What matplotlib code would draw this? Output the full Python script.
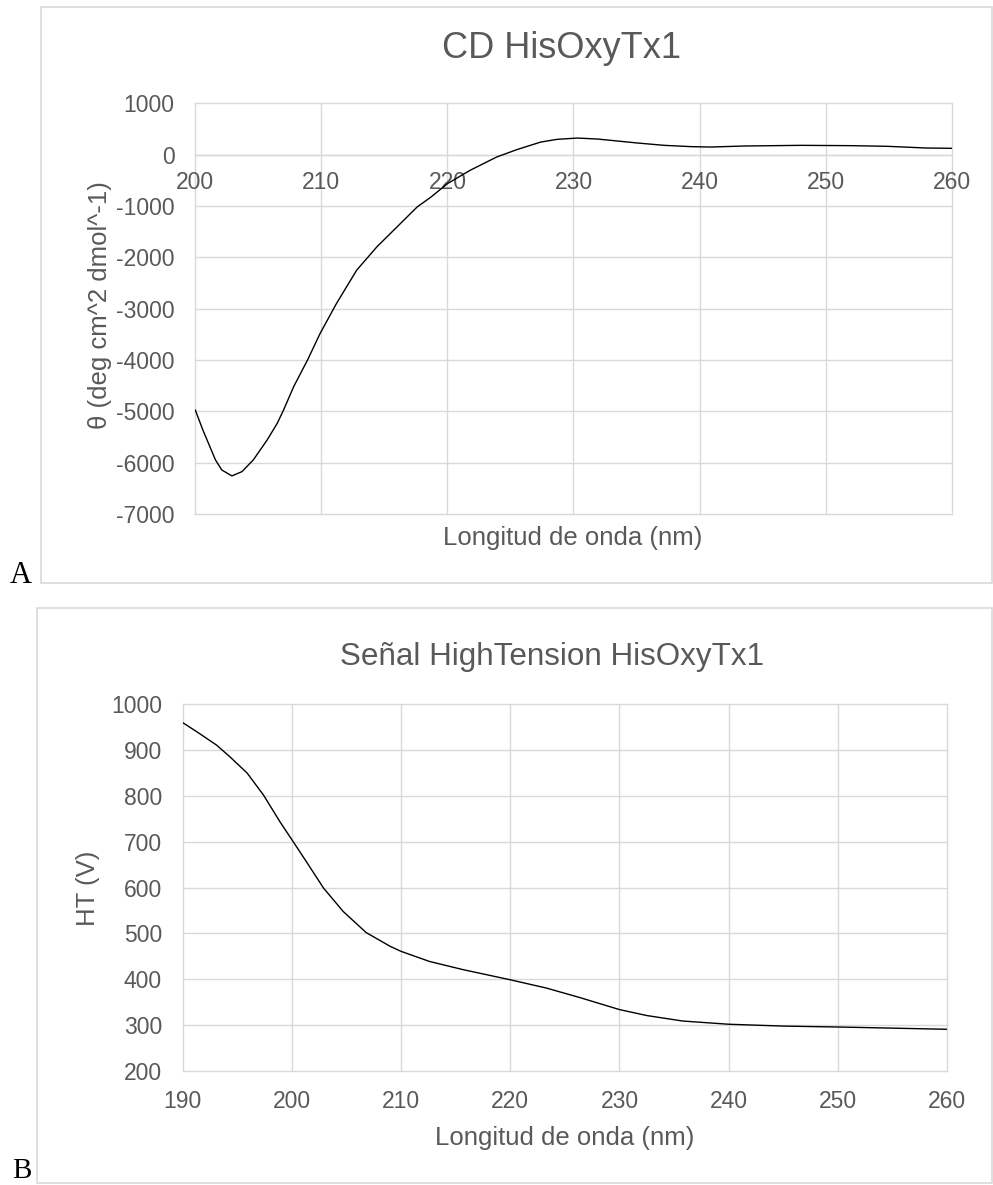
import matplotlib
matplotlib.use("Agg")
import matplotlib.pyplot as plt
from matplotlib.patches import Rectangle

plt.rcParams["font.family"] = "Liberation Sans"
plt.rcParams["axes.unicode_minus"] = False

W, H = 993, 1185

# CD spectrum (panel A)
wl_cd = [200, 200.6, 201.6, 202.1, 202.9, 203.7, 204.6, 205.7, 206.5, 207.0,
         207.8, 208.9, 209.9, 211.2, 212.8, 214.4, 216.0, 217.6, 218.7, 220.0,
         221.8, 223.9, 225.5, 227.4, 228.7, 230.3, 231.9, 233.5, 235.1, 237.2,
         239.3, 240.9, 243.5, 248.0, 252.0, 254.9, 258.0, 260.0]
theta = [-4975, -5364, -5947, -6142, -6258, -6175, -5947, -5558, -5233, -4975,
         -4521, -4002, -3483, -2899, -2251, -1797, -1408, -1019, -825, -565,
         -305, -47, 97, 245, 298, 323, 304, 265, 226, 181,
         156, 148, 168, 181, 175, 162, 129, 123]

# high tension signal (panel B)
wl_ht = [190, 191.3, 193.1, 194.3, 195.9, 197.4, 198.9, 200.1, 201.4, 202.9,
         204.7, 206.8, 209.0, 210.0, 212.6, 215.7, 220.0, 223.3, 226.4, 230.0,
         232.5, 235.8, 240, 245, 250, 260]
ht = [960, 940, 911, 886, 850, 802, 744, 701, 654, 599,
      548, 502, 472, 461, 439, 421, 399, 381, 360, 334,
      321, 309, 302, 298, 296, 291]

GRID = "#d9d9d9"
TXT = "#595959"


def px_box(left, top, right, bottom):
    return [left / W, 1 - bottom / H, (right - left) / W, (bottom - top) / H]


def fx(x):
    return x / W


def fy(y):
    return 1 - y / H


def style_axes(ax, xpad, ypad):
    for s in ax.spines.values():
        s.set_visible(False)
    ax.grid(True, color=GRID, lw=1.0)
    for line in ax.get_xgridlines() + ax.get_ygridlines():
        line.set_clip_on(False)
    ax.tick_params(axis="both", length=0, labelsize=16.5, labelcolor=TXT)
    ax.tick_params(axis="x", pad=xpad)
    ax.tick_params(axis="y", pad=ypad)
    ax.set_axisbelow(True)


fig = plt.figure(figsize=(W / 100, H / 100), dpi=100)

# panel frames
fig.patches.append(Rectangle((fx(41), fy(583)), (992 - 41) / W, (583 - 7) / H,
                             transform=fig.transFigure, fill=False,
                             edgecolor=GRID, lw=1.2))
fig.patches.append(Rectangle((fx(37), fy(1183)), (992 - 37) / W, (1183 - 608) / H,
                             transform=fig.transFigure, fill=False,
                             edgecolor=GRID, lw=1.2))

# panel A
ax1 = fig.add_axes(px_box(195.3, 103.3, 951.7, 514))
ax1.plot(wl_cd, theta, color="black", lw=1.0, zorder=3)
ax1.set_xlim(200, 260)
ax1.set_ylim(-7000, 1000)
ax1.spines["bottom"].set_position(("data", 0))
ax1.set_xticks(range(200, 261, 10))
ax1.set_yticks(range(-7000, 1001, 1000))
style_axes(ax1, xpad=12, ypad=15)
ax1.spines["bottom"].set_visible(True)
ax1.spines["bottom"].set_color(GRID)
ax1.spines["bottom"].set_linewidth(1.0)

fig.text(fx(561), fy(48), "CD HisOxyTx1", ha="center", va="center",
         fontsize=26, color=TXT)
fig.text(fx(573), fy(538), "Longitud de onda (nm)", ha="center", va="center",
         fontsize=18.5, color=TXT)
fig.text(fx(100), fy(305), "θ (deg cm^2 dmol^-1)", ha="center", va="center",
         rotation=90, fontsize=18.5, color=TXT)
fig.text(fx(10), fy(583), "A", ha="left", va="baseline",
         fontsize=22, color="black", family="Liberation Serif")

# panel B
ax2 = fig.add_axes(px_box(182.7, 704.3, 947, 1071))
ax2.plot(wl_ht, ht, color="black", lw=1.0, zorder=3)
ax2.set_xlim(190, 260)
ax2.set_ylim(200, 1000)
ax2.set_xticks(range(190, 261, 10))
ax2.set_yticks(range(200, 1001, 100))
style_axes(ax2, xpad=14, ypad=15)

fig.text(fx(552), fy(657), "Señal HighTension HisOxyTx1", ha="center", va="center",
         fontsize=22.6, color=TXT)
fig.text(fx(565), fy(1138), "Longitud de onda (nm)", ha="center", va="center",
         fontsize=18.5, color=TXT)
fig.text(fx(88), fy(888), "HT (V)", ha="center", va="center",
         rotation=90, fontsize=18.5, color=TXT)
fig.text(fx(12), fy(1178), "B", ha="left", va="baseline",
         fontsize=21, color="black", family="Liberation Serif")

fig.savefig("out.png", dpi=100, facecolor="white")
